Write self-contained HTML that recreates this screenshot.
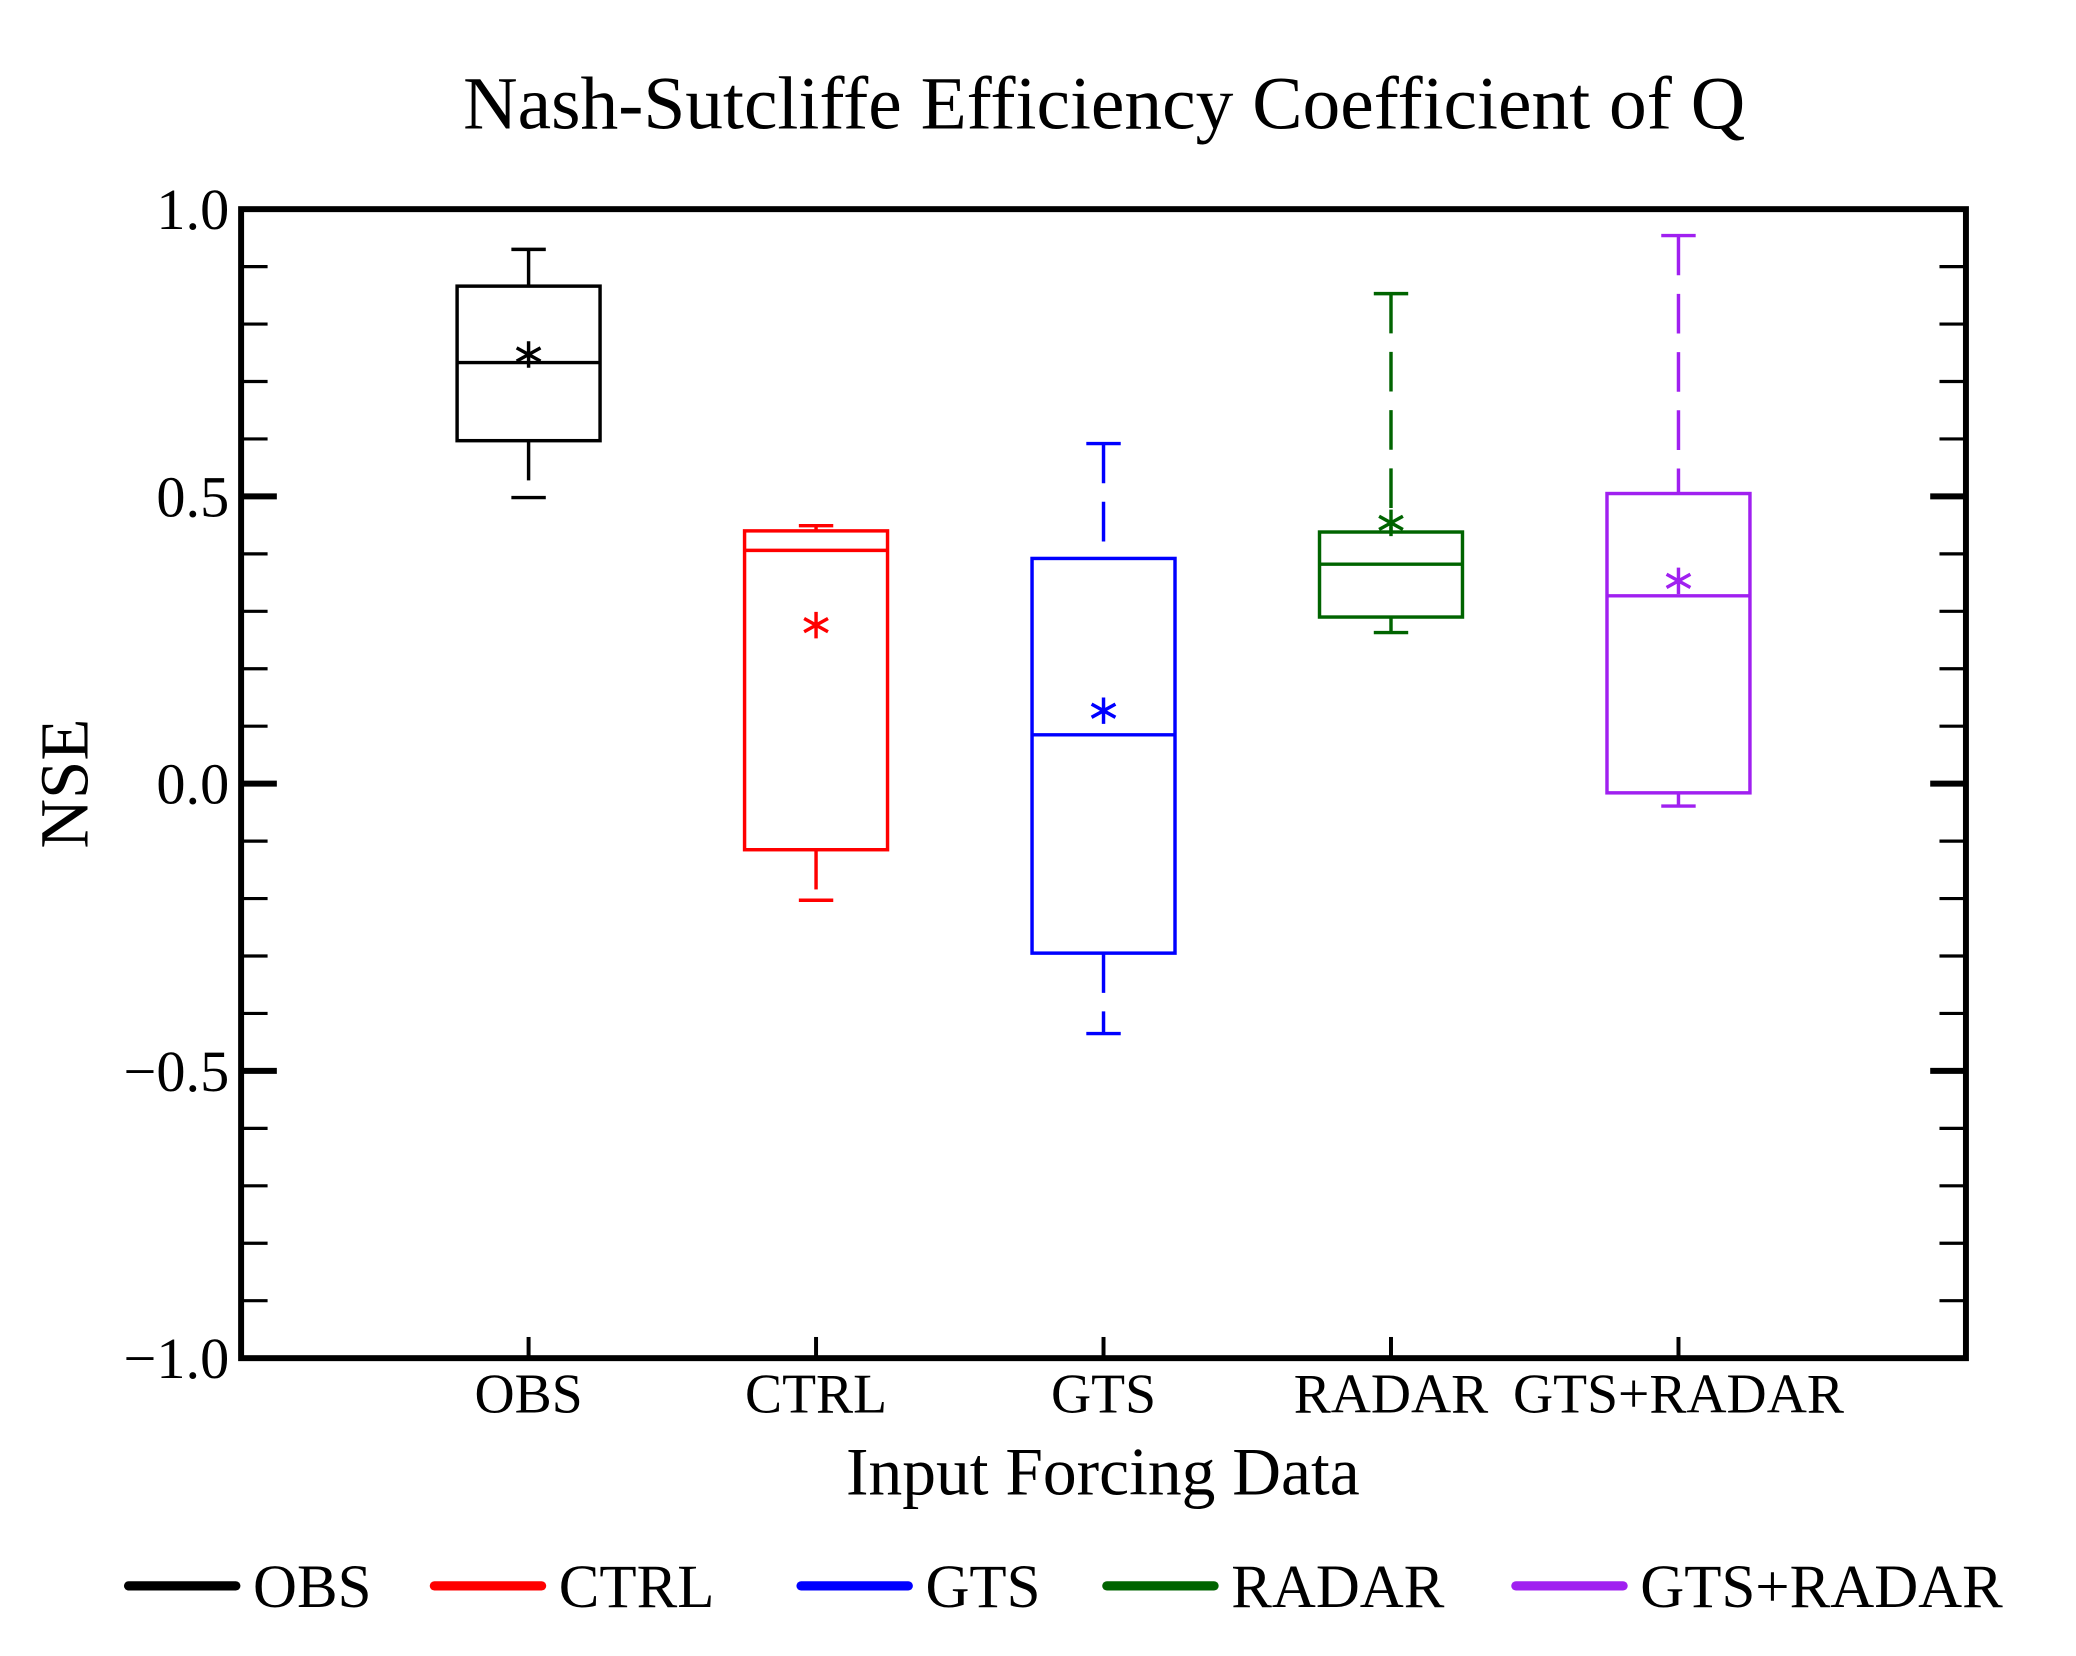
<!DOCTYPE html>
<html><head><meta charset="utf-8"><style>
html,body{margin:0;padding:0;background:#fff;}
svg{display:block;}
text{font-family:"Liberation Serif",serif;fill:#000;}
</style></head><body>
<svg width="2076" height="1656" viewBox="0 0 1568 1251">
<text x="834" y="97" font-size="57" text-anchor="middle">Nash-Sutcliffe Efficiency Coefficient of Q</text>
<g id="axes"></g>
<g id="marks"></g>
<text x="0" y="0" font-size="52" text-anchor="middle" transform="translate(66,592) rotate(-90)">NSE</text>
<text x="833" y="1129" font-size="51" text-anchor="middle">Input Forcing Data</text>
<g id="legend"></g>
</svg>
<script>
const categories=["OBS","CTRL","GTS","RADAR","GTS+RADAR"];
const colors=["#000000","#ff0000","#0000ff","#006400","#a020f0"];
const whiskerHigh=[0.93,0.449,0.592,0.853,0.954];
const q3=[0.866,0.440,0.392,0.438,0.505];
const medians=[0.733,0.406,0.085,0.382,0.327];
const means=[0.747,0.276,0.127,0.454,0.353];
const q1=[0.597,-0.115,-0.295,0.290,-0.016];
const whiskerLow=[0.498,-0.203,-0.435,0.263,-0.039];
const yTicks=[1.0,0.5,0.0,-0.5,-1.0];
const yTickLabels=["1.0","0.5","0.0","\u22120.5","\u22121.0"];
const legendX=[97,328,605,836,1145];

const NS="http://www.w3.org/2000/svg";
const L=182,R=1485,T=158,B=1026;
const y=v=>T+(1-v)/2*(B-T);
const x=i=>L+(i+1)*(R-L)/6;
function mk(tag,attrs,parent){const e=document.createElementNS(NS,tag);for(const k in attrs)e.setAttribute(k,attrs[k]);parent.appendChild(e);return e;}
const axes=document.getElementById('axes'),marks=document.getElementById('marks'),leg=document.getElementById('legend');
for(let k=-10;k<=10;k++){const v=k/10;const major=(k%5===0);const len=major?27:20;const sw=major?4.5:2.4;
 if(k===10||k===-10)continue;
 let t=mk('line',{x1:L,x2:L+len,y1:y(v),y2:y(v),stroke:'#000','stroke-width':sw},axes);
 
 t=mk('line',{x1:R-len,x2:R,y1:y(v),y2:y(v),stroke:'#000','stroke-width':sw},axes);
 }
yTicks.forEach((v,i)=>{const t=mk('text',{x:173,y:y(v)+15,'font-size':44,'text-anchor':'end'},axes);t.textContent=yTickLabels[i];
 });
const frame=mk('rect',{x:L,y:T,width:R-L,height:B-T,fill:'none',stroke:'#000','stroke-width':4.5},axes);

categories.forEach((c,i)=>{
 const tk=mk('line',{x1:x(i),x2:x(i),y1:B,y2:B-16,stroke:'#000','stroke-width':3},axes);
 
 const t=mk('text',{x:x(i),y:1067,'font-size':42,'text-anchor':'middle'},axes);t.textContent=c;
 
 const g=mk('g',{},marks);
 
 
 const col=colors[i],w=54,cx=x(i);
 mk('line',{x1:cx,x2:cx,y1:y(whiskerHigh[i]),y2:y(q3[i]),stroke:col,'stroke-width':2.6,'stroke-dasharray':'30 14'},g);
 mk('line',{x1:cx,x2:cx,y1:y(q1[i]),y2:y(whiskerLow[i]),stroke:col,'stroke-width':2.6,'stroke-dasharray':'30 14'},g);
 mk('line',{x1:cx-13,x2:cx+13,y1:y(whiskerHigh[i]),y2:y(whiskerHigh[i]),stroke:col,'stroke-width':2.6},g);
 mk('line',{x1:cx-13,x2:cx+13,y1:y(whiskerLow[i]),y2:y(whiskerLow[i]),stroke:col,'stroke-width':2.6},g);
 mk('rect',{x:cx-w,y:y(q3[i]),width:2*w,height:y(q1[i])-y(q3[i]),fill:'none',stroke:col,'stroke-width':2.6},g);
 mk('line',{x1:cx-w,x2:cx+w,y1:y(medians[i]),y2:y(medians[i]),stroke:col,'stroke-width':2.6},g);
 const my=y(means[i]);
 mk('path',{d:`M${cx} ${my-10}V${my+10}M${cx-9} ${my-5}L${cx+9} ${my+5}M${cx-9} ${my+5}L${cx+9} ${my-5}`,stroke:col,'stroke-width':2.6,fill:'none'},g);
 const lg=mk('g',{},leg);
 
 
 mk('line',{x1:legendX[i],x2:legendX[i]+81,y1:1198,y2:1198,stroke:col,'stroke-width':7,'stroke-linecap':'round'},lg);
 const lt=mk('text',{x:legendX[i]+94,y:1214,'font-size':46},lg);lt.textContent=c;
});
</script>
</body></html>
